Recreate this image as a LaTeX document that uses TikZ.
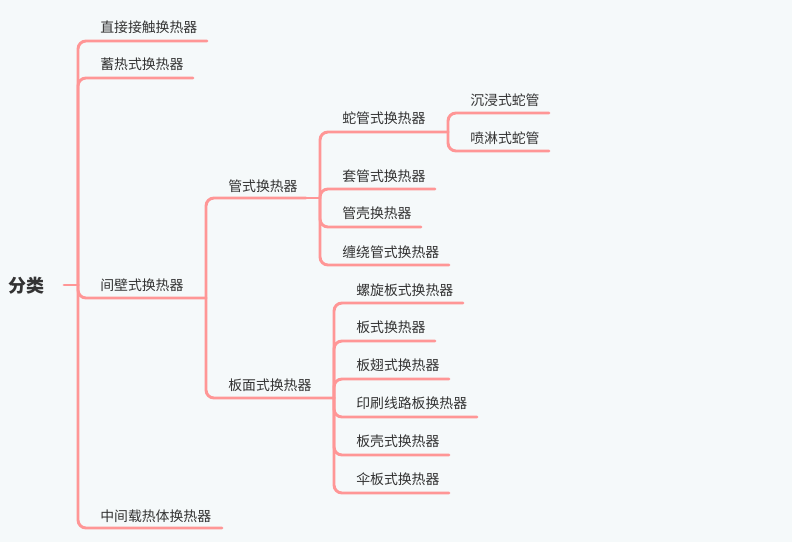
\documentclass[tikz,border=0pt]{standalone}
\usepackage{fontspec}
\newfontfamily\cjk{Noto Sans CJK SC}
\definecolor{bg}{RGB}{245,249,250}
\definecolor{ln}{RGB}{255,150,150}
\definecolor{tx}{RGB}{51,51,51}
\begin{document}
\begin{tikzpicture}[x=0.75pt,y=-0.75pt,
  lbl/.style={anchor=west,inner sep=0pt,yshift=-0.9pt,font=\cjk\fontsize{10.4pt}{12pt}\selectfont,text=tx},
  rootlbl/.style={anchor=west,inner sep=0pt,font=\cjk\bfseries\fontsize{13.5pt}{15pt}\selectfont,text=tx},
  br/.style={draw=ln,line width=2.2pt,rounded corners=6pt,line cap=round}]
\fill[bg] (0,0) rectangle (792,542);
\useasboundingbox (0,0) rectangle (792,542);

% root
\node[rootlbl] (root) at (8,286) {分类};
\coordinate (rs) at (64,285);
\coordinate (r) at (78,285);
\draw[br] (rs) -- (r);

% level 1
\node[lbl] (n1) at (100,26) {直接接触换热器};
\node[lbl] (n2) at (100,63) {蓄热式换热器};
\node[lbl] (n3) at (100,284) {间壁式换热器};
\node[lbl] (n4) at (100,515) {中间载热体换热器};
\coordinate (a1) at (207,41);
\coordinate (a2) at (193,78);
\coordinate (a3) at (206,298);
\coordinate (a4) at (222,528);
\foreach \e in {a1,a2,a3,a4} \draw[br] (r) |- (\e);

% level 2
\node[lbl] (m1) at (228,185) {管式换热器};
\node[lbl] (m2) at (228,384) {板面式换热器};
\coordinate (b1) at (306,198);
\coordinate (b2) at (334,398);
\foreach \e in {b1,b2} \draw[br] (a3) |- (\e);

% tube branch
\coordinate (c0) at (320,198);
\draw[br] (b1) -- (c0);
\node[lbl] (p1) at (342,117) {蛇管式换热器};
\node[lbl] (p2) at (342,175) {套管式换热器};
\node[lbl] (p3) at (342,212) {管壳换热器};
\node[lbl] (p4) at (342,251) {缠绕管式换热器};
\coordinate (c1) at (448,132);
\coordinate (c2) at (435,189);
\coordinate (c3) at (421,227);
\coordinate (c4) at (449,265);
\foreach \e in {c1,c2,c3,c4} \draw[br] (c0) |- (\e);

% coil branch
\node[lbl] (q1) at (470,99) {沉浸式蛇管};
\node[lbl] (q2) at (470,137) {喷淋式蛇管};
\coordinate (d1) at (549,113);
\coordinate (d2) at (549,151);
\foreach \e in {d1,d2} \draw[br] (c1) |- (\e);

% plate branch
\node[lbl] (s1) at (356,289) {螺旋板式换热器};
\node[lbl] (s2) at (356,326) {板式换热器};
\node[lbl] (s3) at (356,364) {板翅式换热器};
\node[lbl] (s4) at (356,402) {印刷线路板换热器};
\node[lbl] (s5) at (356,440) {板壳式换热器};
\node[lbl] (s6) at (356,478) {伞板式换热器};
\coordinate (e1) at (463,303);
\coordinate (e2) at (435,341);
\coordinate (e3) at (449,379);
\coordinate (e4) at (477,417);
\coordinate (e5) at (449,455);
\coordinate (e6) at (449,493);
\foreach \e in {e1,e2,e3,e4,e5,e6} \draw[br] (b2) |- (\e);
\end{tikzpicture}
\end{document}
